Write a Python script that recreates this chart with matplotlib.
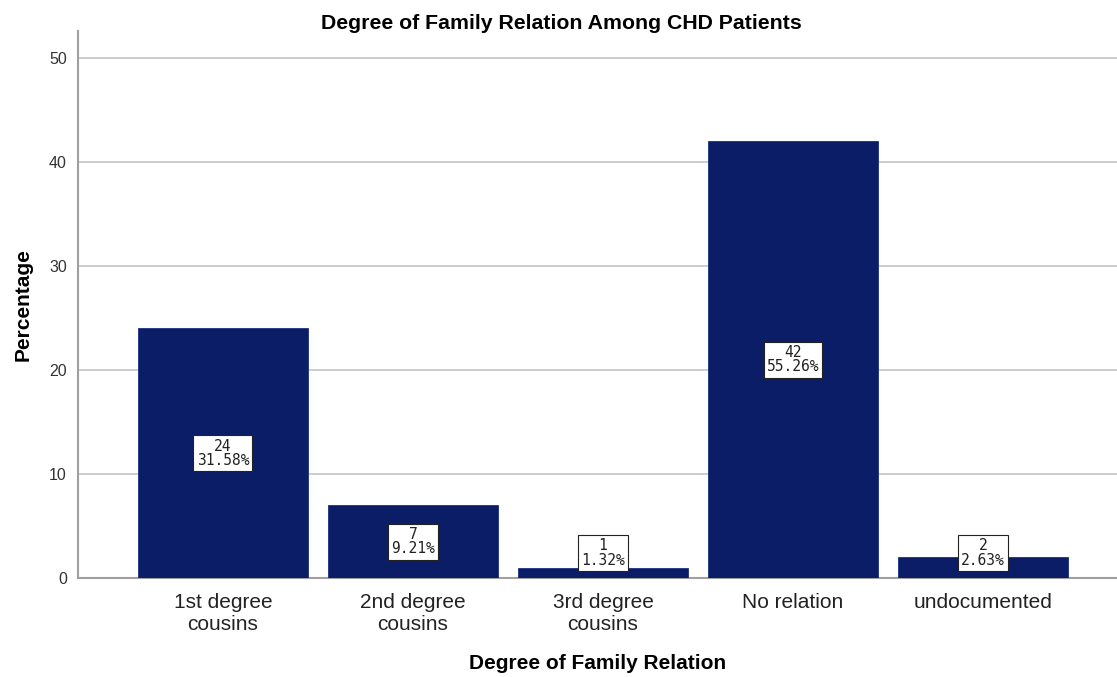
import numpy as np
import matplotlib.pyplot as plt

# data
categories = ["1st degree\ncousins", "2nd degree\ncousins", "3rd degree\ncousins",
              "No relation", "undocumented"]
counts = [24, 7, 1, 42, 2]
percents = [31.58, 9.21, 1.32, 55.26, 2.63]
yticks = [0, 10, 20, 30, 40, 50]

plt.rcParams['font.family'] = ['Liberation Sans', 'DejaVu Sans']

fig = plt.figure(figsize=(11.17, 6.77), dpi=100)
ax = fig.add_axes([0.0698, 0.1462, 0.9302, 0.808])

x = np.arange(len(categories))
ax.bar(x, counts, width=0.895, color='#0b1d66', edgecolor='#1a2f80',
       linewidth=0.6, zorder=3)

# value boxes, centred on the bar, lifted a bit for the short ones
for xi, c, p in zip(x, counts, percents):
    ypos = max(c / 2.0, 2.4)
    ax.text(xi, ypos, "%d\n%.2f%%" % (c, p), ha='center', va='center',
            fontsize=10.5, family='DejaVu Sans Mono', color='#222222',
            linespacing=0.95, zorder=5,
            bbox=dict(boxstyle='square,pad=0.22', facecolor='white',
                      edgecolor='#222222', linewidth=0.8))

ax.set_xlim(-0.763, 4.705)
ax.set_ylim(0, 52.6)
ax.set_yticks(yticks)
ax.set_xticks(x)
ax.set_xticklabels(categories, fontsize=15, color='#222222', linespacing=1.2)
ax.tick_params(axis='y', labelsize=11.5, labelcolor='#333333', length=0, pad=8)
ax.tick_params(axis='x', length=0, pad=11)

ax.grid(axis='y', color='#c8c8c8', linewidth=1.3, zorder=0)
for s in ['top', 'right']:
    ax.spines[s].set_visible(False)
ax.spines['left'].set_color('#a0a0a0')
ax.spines['left'].set_linewidth(1.5)
ax.spines['bottom'].set_color('#a0a0a0')
ax.spines['bottom'].set_linewidth(1.5)

ax.set_ylabel("Percentage", fontsize=15, fontweight='bold', labelpad=12)
ax.set_xlabel("Degree of Family Relation", fontsize=15, fontweight='bold', labelpad=14)
fig.text(0.503, 0.965, "Degree of Family Relation Among CHD Patients",
         ha='center', va='center', fontsize=15.3, fontweight='bold')

fig.savefig('out.png', dpi=100)
